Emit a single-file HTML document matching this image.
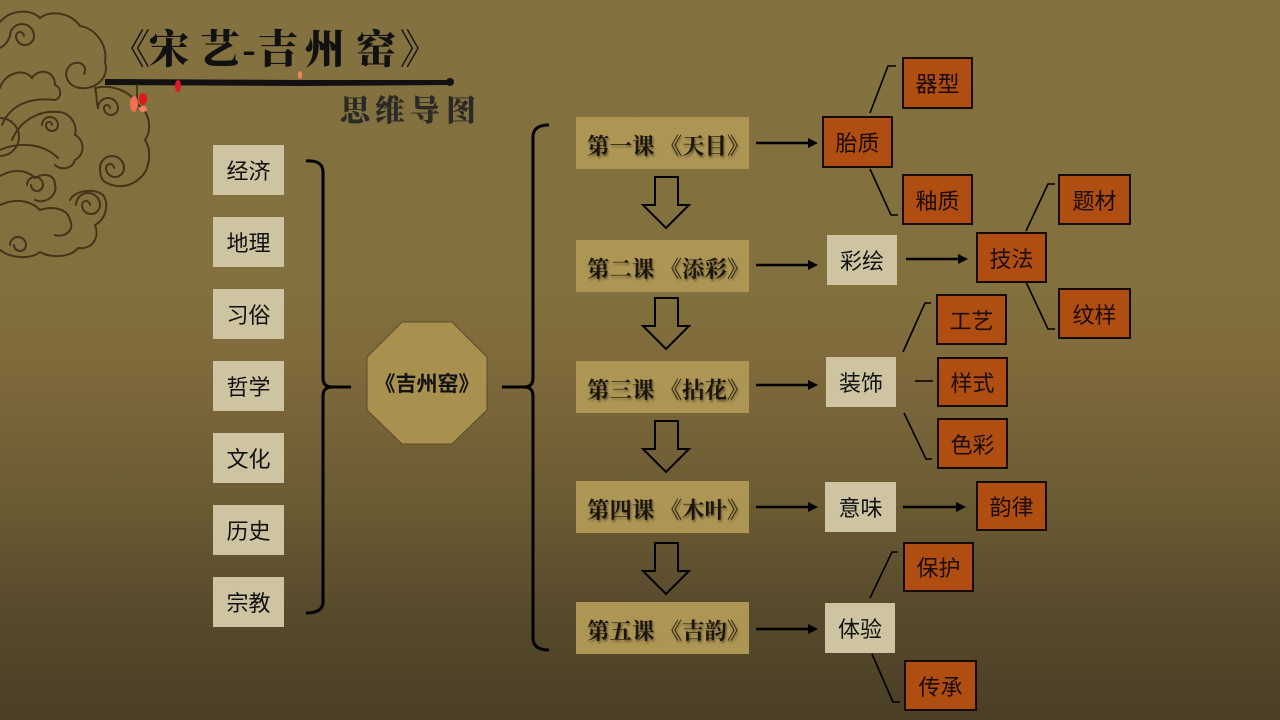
<!DOCTYPE html>
<html><head><meta charset="utf-8">
<style>
html,body{margin:0;padding:0}
body{width:1280px;height:720px;position:relative;overflow:hidden;
background:linear-gradient(to bottom,#83713f 0%,#82703e 40%,#7f6a3b 50%,#6b5b33 70%,#574a2c 85%,#4a3e25 100%);
font-family:"Liberation Sans","Noto Sans CJK SC",sans-serif;}
.b{position:absolute;display:flex;align-items:center;justify-content:center;font-size:22px;color:#111;box-sizing:border-box;}
.lt{background:#cfc4a1;}
.or{background:#b04e12;border:2px solid #140b04;color:#1a0c04;}
.ls{position:absolute;background:#ad9654;height:52px;left:576px;width:173px;box-sizing:border-box;padding-left:11px;display:flex;align-items:center;
font-family:"Liberation Serif","Noto Serif CJK SC",serif;font-weight:700;font-size:22.5px;color:#1b1409;text-shadow:1px 2px 2px rgba(0,0,0,0.45);white-space:nowrap;padding-top:4px}
.ls span{margin-left:5px}
.t{position:absolute;font-family:"Liberation Serif","Noto Serif CJK SC",serif;font-weight:900;font-size:40px;color:#111;line-height:40px;width:44px;text-align:center}
.s{position:absolute;font-family:"Liberation Serif","Noto Serif CJK SC",serif;font-weight:900;font-size:30px;color:#2b2a26;line-height:30px;width:34px;text-align:center}
</style></head><body>

<svg width="1280" height="720" style="position:absolute;left:0;top:0" xmlns="http://www.w3.org/2000/svg">
<g fill="none" stroke="#45341a" stroke-width="2" stroke-linecap="round">
 <path d="M0,22 C10,10 30,8 40,18 C50,10 70,12 80,26 C95,28 108,45 105,62 C110,78 95,90 80,88 C65,86 62,70 72,64 C80,60 88,66 84,74"/>
 <path d="M10,36 A12,12 0 1,1 34,36 A9,9 0 0,1 16,36 A4,4 0 0,1 24,36"/>
 <path d="M10,36 C8,42 4,46 0,48"/>
 <path d="M0,88 C5,72 25,68 32,78 C38,68 55,70 55,85 C62,88 62,98 55,100"/>
 <path d="M2,125 C10,105 30,97 55,100"/>
 <path d="M12,140 C20,120 40,110 58,112"/>
 <path d="M42,125 A8,8 0 1,1 58,125 A6,6 0 0,1 46,125 A3,3 0 0,1 52,125"/>
 <path d="M58,112 C70,112 78,125 75,135 C85,140 85,155 75,160 C72,170 60,170 55,165"/>
 <path d="M0,150 C12,144 40,140 58,158"/>
 <path d="M0,118 A18,18 0 0,1 0,156"/>
 <path d="M0,176 C10,170 25,168 35,178 C45,172 55,175 55,185 C58,195 45,205 35,200"/>
 <path d="M27,185 A8,8 0 1,1 43,185 A6,6 0 0,1 31,185"/>
 <path d="M95,88 C110,84 130,90 138,105 C150,112 152,130 145,140 C152,150 150,170 140,178 C130,188 115,188 105,182"/>
 <path d="M98,108 A10,10 0 1,1 118,108 A7,7 0 0,1 104,108 A3,3 0 0,1 110,108"/>
 <path d="M98,108 C96,100 97,94 95,88"/>
 <path d="M100,168 A12,12 0 1,1 124,168 A9,9 0 0,1 106,168 A4,4 0 0,1 114,168"/>
 <path d="M100,168 C100,176 102,180 105,182"/>
 <path d="M70,200 C75,190 95,188 103,195 C110,205 105,220 95,225 C100,238 92,250 78,248 C70,258 50,258 40,252 C30,260 10,258 0,250"/>
 <path d="M76,205 A12,12 0 1,1 100,205 A9,9 0 0,1 82,205 A4,4 0 0,1 90,205"/>
 <path d="M0,205 C15,198 30,200 40,210 C55,205 68,210 70,220 C75,230 65,238 55,235"/>
 <path d="M10,245 A8,8 0 1,1 26,245 A6,6 0 0,1 14,245"/>
</g>
<path d="M105,79 L300,80 L452,80 L452,85 L300,86 L105,85 Z" fill="#111"/>
<ellipse cx="450" cy="82" rx="4" ry="4" fill="#111"/>
<line x1="137" y1="84" x2="137" y2="110" stroke="#3a2a14" stroke-width="1.5"/>
<ellipse cx="134" cy="104" rx="4" ry="8" fill="#f07050"/>
<ellipse cx="143" cy="99" rx="4" ry="6" fill="#e01818"/>
<ellipse cx="143" cy="109" rx="4" ry="3" fill="#f08060"/>
<ellipse cx="178" cy="86" rx="3" ry="6" fill="#e01830"/>
<ellipse cx="300" cy="75" rx="2" ry="4" fill="#f08060"/>

<path d="M306,161 Q323,160 323,172 L323,378 Q323,387 332,387 L351,387 M332,387 Q323,387 323,396 L323,602 Q323,613 306,613" fill="none" stroke="#000" stroke-width="3"/>
<path d="M549,125 Q533,125 533,137 L533,378 Q533,387 524,387 L502,387 M524,387 Q533,387 533,396 L533,638 Q533,650 549,650" fill="none" stroke="#000" stroke-width="3"/>

<polygon points="402,322 452,322 487,357 487,410 452,444 402,444 367,410 367,357" fill="#a8914f" stroke="#5a4a28" stroke-width="1"/>

<g fill="none" stroke="#000" stroke-width="2">
 <polygon points="655,177 678,177 678,205 689,205 666,228 643,205 655,205"/>
 <polygon points="655,298 678,298 678,326 689,326 666,349 643,326 655,326"/>
 <polygon points="655,421 678,421 678,449 689,449 666,472 643,449 655,449"/>
 <polygon points="655,543 678,543 678,571 689,571 666,594 643,571 655,571"/>
</g>

<g stroke="#000" stroke-width="2.5">
 <line x1="756" y1="143" x2="810" y2="143"/>
 <line x1="756" y1="265" x2="810" y2="265"/>
 <line x1="756" y1="385" x2="810" y2="385"/>
 <line x1="756" y1="507" x2="810" y2="507"/>
 <line x1="756" y1="629" x2="810" y2="629"/>
 <line x1="906" y1="259" x2="960" y2="259"/>
 <line x1="903" y1="507" x2="958" y2="507"/>
</g>
<g fill="#000">
 <polygon points="818,143 808,138 808,148"/>
 <polygon points="818,265 808,260 808,270"/>
 <polygon points="818,385 808,380 808,390"/>
 <polygon points="818,507 808,502 808,512"/>
 <polygon points="818,629 808,624 808,634"/>
 <polygon points="968,259 958,254 958,264"/>
 <polygon points="966,507 956,502 956,512"/>
</g>

<g fill="none" stroke="#000" stroke-width="1.6">
 <polyline points="870,113 888,66 896,66"/>
 <polyline points="870,169 891,215 898,215"/>
 <polyline points="1026,231 1048,184 1055,184"/>
 <polyline points="1026,282 1048,329 1055,329"/>
 <polyline points="903,352 925,303 931,303"/>
 <line x1="915" y1="381" x2="933" y2="381"/>
 <polyline points="904,413 926,459 932,459"/>
 <polyline points="870,598 892,552 898,552"/>
 <polyline points="872,654 893,702 900,702"/>
</g>
</svg>

<div class="t" style="left:108px;top:30px">《</div>
<div class="t" style="left:147px;top:30px">宋</div>
<div class="t" style="left:198px;top:30px">艺</div>
<div class="t" style="left:227px;top:30px">-</div>
<div class="t" style="left:256px;top:30px">吉</div>
<div class="t" style="left:303px;top:30px">州</div>
<div class="t" style="left:354px;top:30px">窑</div>
<div class="t" style="left:398px;top:30px">》</div>

<div class="s" style="left:338px;top:97px">思</div>
<div class="s" style="left:373px;top:97px">维</div>
<div class="s" style="left:408px;top:97px">导</div>
<div class="s" style="left:444px;top:97px">图</div>

<div class="b lt" style="left:213px;top:145px;width:71px;height:50px">经济</div>
<div class="b lt" style="left:213px;top:217px;width:71px;height:50px">地理</div>
<div class="b lt" style="left:213px;top:289px;width:71px;height:50px">习俗</div>
<div class="b lt" style="left:213px;top:361px;width:71px;height:50px">哲学</div>
<div class="b lt" style="left:213px;top:433px;width:71px;height:50px">文化</div>
<div class="b lt" style="left:213px;top:505px;width:71px;height:50px">历史</div>
<div class="b lt" style="left:213px;top:577px;width:71px;height:50px">宗教</div>

<div class="b" style="left:367px;top:322px;width:120px;height:122px;font-weight:700;font-size:21px;color:#111">《吉州窑》</div>

<div class="ls" style="top:117px">第一课<span>《天目》</span></div>
<div class="ls" style="top:240px">第二课<span>《添彩》</span></div>
<div class="ls" style="top:361px">第三课<span>《拈花》</span></div>
<div class="ls" style="top:481px">第四课<span>《木叶》</span></div>
<div class="ls" style="top:602px">第五课<span>《吉韵》</span></div>

<div class="b or" style="left:822px;top:116px;width:71px;height:52px">胎质</div>
<div class="b or" style="left:902px;top:57px;width:71px;height:52px">器型</div>
<div class="b or" style="left:902px;top:174px;width:71px;height:51px">釉质</div>
<div class="b lt" style="left:827px;top:235px;width:70px;height:50px">彩绘</div>
<div class="b or" style="left:976px;top:232px;width:71px;height:51px">技法</div>
<div class="b or" style="left:1058px;top:174px;width:73px;height:51px">题材</div>
<div class="b or" style="left:1058px;top:288px;width:73px;height:51px">纹样</div>
<div class="b lt" style="left:826px;top:357px;width:70px;height:50px">装饰</div>
<div class="b or" style="left:936px;top:294px;width:71px;height:51px">工艺</div>
<div class="b or" style="left:937px;top:357px;width:71px;height:50px">样式</div>
<div class="b or" style="left:937px;top:418px;width:71px;height:51px">色彩</div>
<div class="b lt" style="left:825px;top:482px;width:71px;height:50px">意味</div>
<div class="b or" style="left:976px;top:481px;width:71px;height:50px">韵律</div>
<div class="b lt" style="left:825px;top:603px;width:70px;height:50px">体验</div>
<div class="b or" style="left:903px;top:542px;width:71px;height:50px">保护</div>
<div class="b or" style="left:904px;top:660px;width:73px;height:51px">传承</div>

</body></html>
